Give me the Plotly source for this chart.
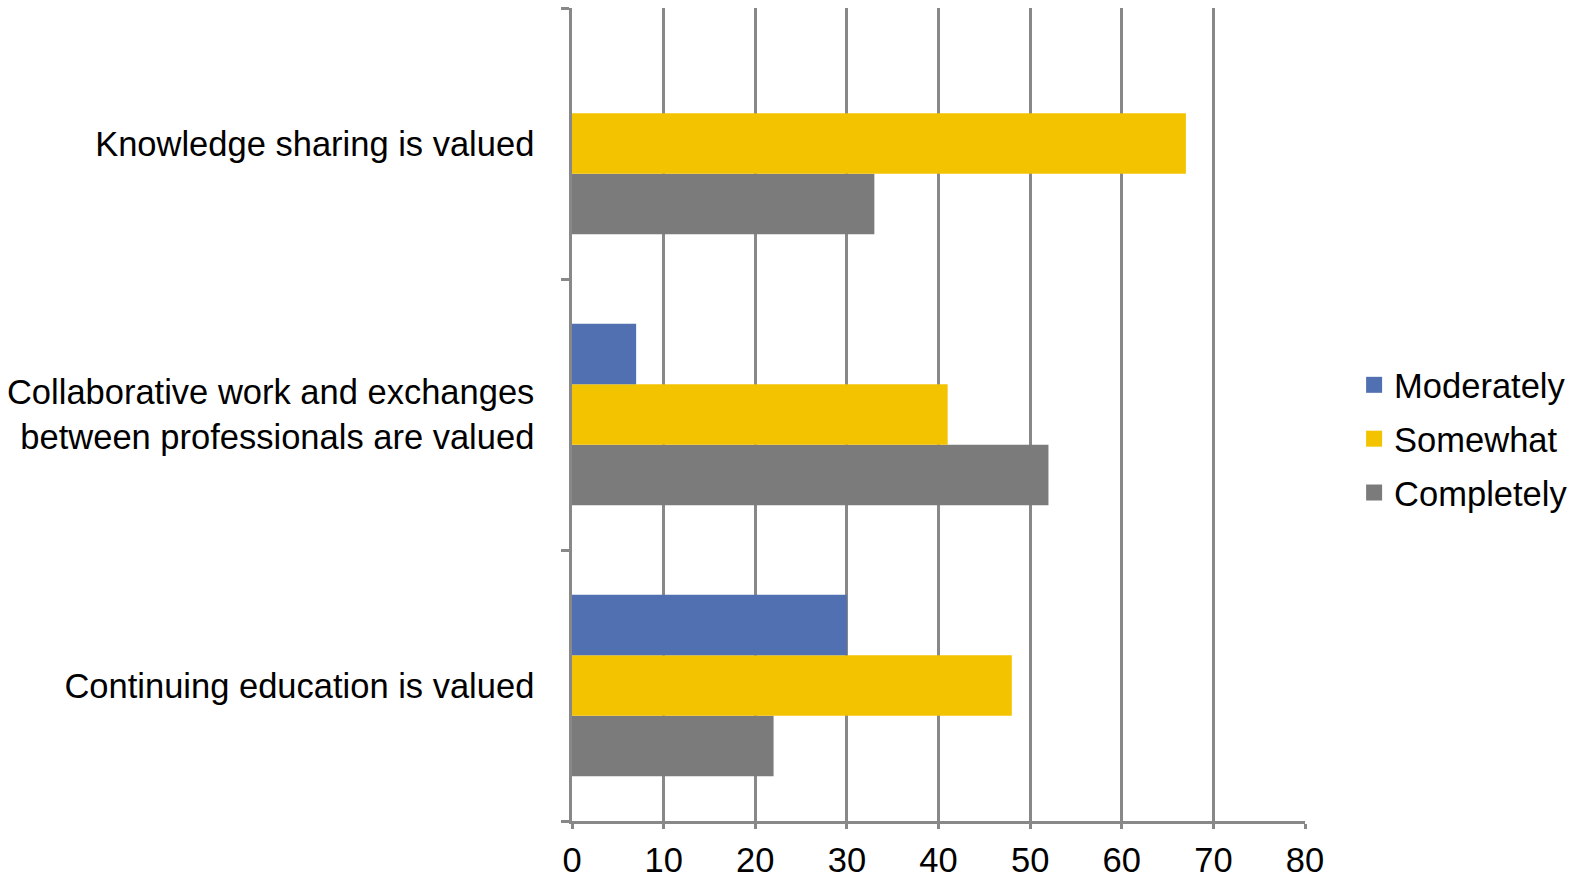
import plotly.graph_objects as go

categories = [
    "Continuing education is valued",
    "Collaborative work and exchanges<br>between professionals are valued",
    "Knowledge sharing is valued",
]
moderately = [30, 7, 0]
somewhat = [48, 41, 67]
completely = [22, 52, 33]

series = [
    ("Completely", completely, "#7B7B7B"),
    ("Somewhat", somewhat, "#F3C300"),
    ("Moderately", moderately, "#5170B1"),
]

fig = go.Figure()
for name, vals, color in series:
    fig.add_trace(go.Bar(
        y=categories, x=vals, name=name, orientation="h",
        marker=dict(color=color, line=dict(width=0)),
        showlegend=False,
    ))
# legend entries with larger square swatches (Moderately listed first)
for name, vals, color in reversed(series):
    fig.add_trace(go.Scatter(
        x=[None], y=[None], mode="markers", name=name,
        legendgroup=name,
        marker=dict(symbol="square", size=19, color=color),
        showlegend=True,
    ))

grid = "#888888"
fig.update_layout(
    width=1579, height=878,
    margin=dict(l=572, r=274, t=8, b=57, autoexpand=False),
    paper_bgcolor="white", plot_bgcolor="white",
    barmode="group", bargap=0.33, bargroupgap=0,
    font=dict(family="Liberation Sans, Arial, sans-serif", size=34.5, color="black"),
    legend=dict(
        x=1.067, xanchor="left", y=0.47, yanchor="middle",
        traceorder="grouped", font=dict(size=34.5),
        itemwidth=30, tracegroupgap=6,
    ),
    showlegend=True,
)
fig.update_xaxes(
    range=[0, 80], dtick=10, tick0=0,
    showgrid=True, gridcolor=grid, gridwidth=2.5,
    showline=True, linecolor=grid, linewidth=2.5,
    ticks="outside", ticklen=5, tickwidth=2.5, tickcolor=grid,
    ticklabelstandoff=2,
    zeroline=False, fixedrange=True,
)
fig.update_yaxes(
    type="category", categoryorder="array", categoryarray=categories,
    showgrid=False,
    showline=True, linecolor=grid, linewidth=2.5,
    ticks="outside", ticklen=8, tickwidth=2.5, tickcolor=grid,
    tickson="boundaries",
    ticklabelstandoff=28,
    fixedrange=True,
)

fig.write_html("out.html")
